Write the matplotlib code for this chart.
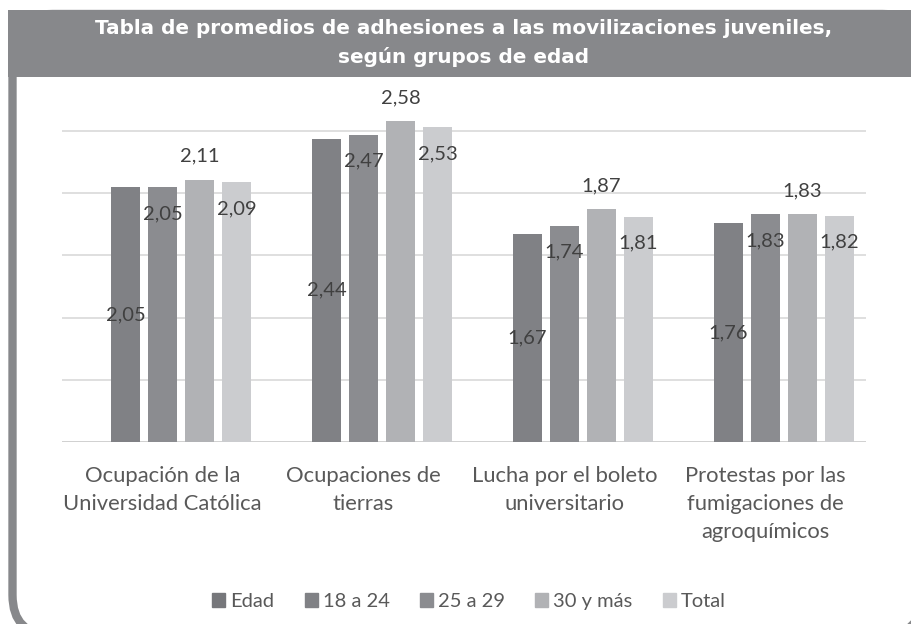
import matplotlib.pyplot as plt
import matplotlib.patches as mpatches
import numpy as np

# datos
categorias = ['Ocupación de la\nUniversidad Católica', 'Ocupaciones de\ntierras',
              'Lucha por el boleto\nuniversitario',
              'Protestas por las\nfumigaciones de\nagroquímicos']
series = ['Edad', '18 a 24', '25 a 29', '30 y más', 'Total']
edad = [np.nan, np.nan, np.nan, np.nan]  # serie vacia en el original
v_18_24 = [2.05, 2.44, 1.67, 1.76]
v_25_29 = [2.05, 2.47, 1.74, 1.83]
v_30_mas = [2.11, 2.58, 1.87, 1.83]
v_total = [2.09, 2.53, 1.81, 1.82]
valores = [edad, v_18_24, v_25_29, v_30_mas, v_total]

colores = ['#76777b', '#808185', '#8b8c90', '#b1b2b5', '#cbcccf']
pos_etiqueta = [None, 'center', 'inside', 'outside', 'inside']

plt.rcParams['font.family'] = ['Lato', 'DejaVu Sans']

fig = plt.figure(figsize=(9.11, 6.24), dpi=100)

# marco y banda de titulo (coordenadas en pixeles)
bg = fig.add_axes([0, 0, 1, 1], zorder=0)
bg.set_xlim(0, 911)
bg.set_ylim(624, 0)
bg.axis('off')
bg.add_patch(mpatches.FancyBboxPatch((12.5, 14), 910, 621,
                                     boxstyle='round,pad=0,rounding_size=40',
                                     fc='white', ec='#87888b', lw=6))
bg.add_patch(mpatches.Rectangle((8, 10), 905, 67, fc='#87888b', ec='none'))
bg.text(464, 28, 'Tabla de promedios de adhesiones a las movilizaciones juveniles,',
        color='white', fontsize=14.4, fontweight='bold', ha='center', va='center',
        family='DejaVu Sans')
bg.text(464, 57, 'según grupos de edad',
        color='white', fontsize=14.4, fontweight='bold', ha='center', va='center',
        family='DejaVu Sans')

ax = fig.add_axes([62 / 911, 182 / 624, 804 / 911, 342 / 624], zorder=1)
ax.patch.set_alpha(0)

x = np.arange(len(categorias))
ancho = 0.144
paso = 0.184

for i, (nombre, vals) in enumerate(zip(series, valores)):
    xs = x + (i - 2) * paso
    ax.bar(xs, vals, width=ancho, color=colores[i], zorder=2, label=nombre)
    modo = pos_etiqueta[i]
    if modo is None:
        continue
    for xi, v in zip(xs, vals):
        txt = f'{v:.2f}'.replace('.', ',')
        if modo == 'center':
            ax.text(xi, v / 2, txt, ha='center', va='center', fontsize=14.5,
                    color='#404040', zorder=3)
        elif modo == 'inside':
            ax.annotate(txt, (xi, v), xytext=(0, -19), textcoords='offset points',
                        ha='center', va='center', fontsize=14.5, color='#404040', zorder=3)
        else:
            ax.annotate(txt, (xi, v), xytext=(0, 17), textcoords='offset points',
                        ha='center', va='center', fontsize=14.5, color='#404040', zorder=3)

ax.set_xlim(-0.5, 3.5)
ax.set_ylim(0, 2.75)
ax.set_yticks([0.5, 1.0, 1.5, 2.0, 2.5])
ax.set_yticklabels([])
ax.tick_params(axis='y', length=0)
ax.grid(axis='y', color='#d9d9d9', lw=1.2, zorder=0)
ax.axhline(0, color='#d0d0d0', lw=1.4, zorder=1)
for s in ax.spines.values():
    s.set_visible(False)

ax.set_xticks(x)
ax.set_xticklabels(categorias, fontsize=15.8, color='#595959', linespacing=1.5, va='top')
ax.tick_params(axis='x', length=0, pad=17)

handles = [mpatches.Patch(color=c) for c in colores]
fig.legend(handles, series, loc='center', bbox_to_anchor=(0.515, 0.036), ncol=5,
           frameon=False, fontsize=14.5, handlelength=0.65, handleheight=0.65,
           handletextpad=0.25, columnspacing=1.5, labelcolor='#595959')

fig.savefig('out.png', dpi=100)
